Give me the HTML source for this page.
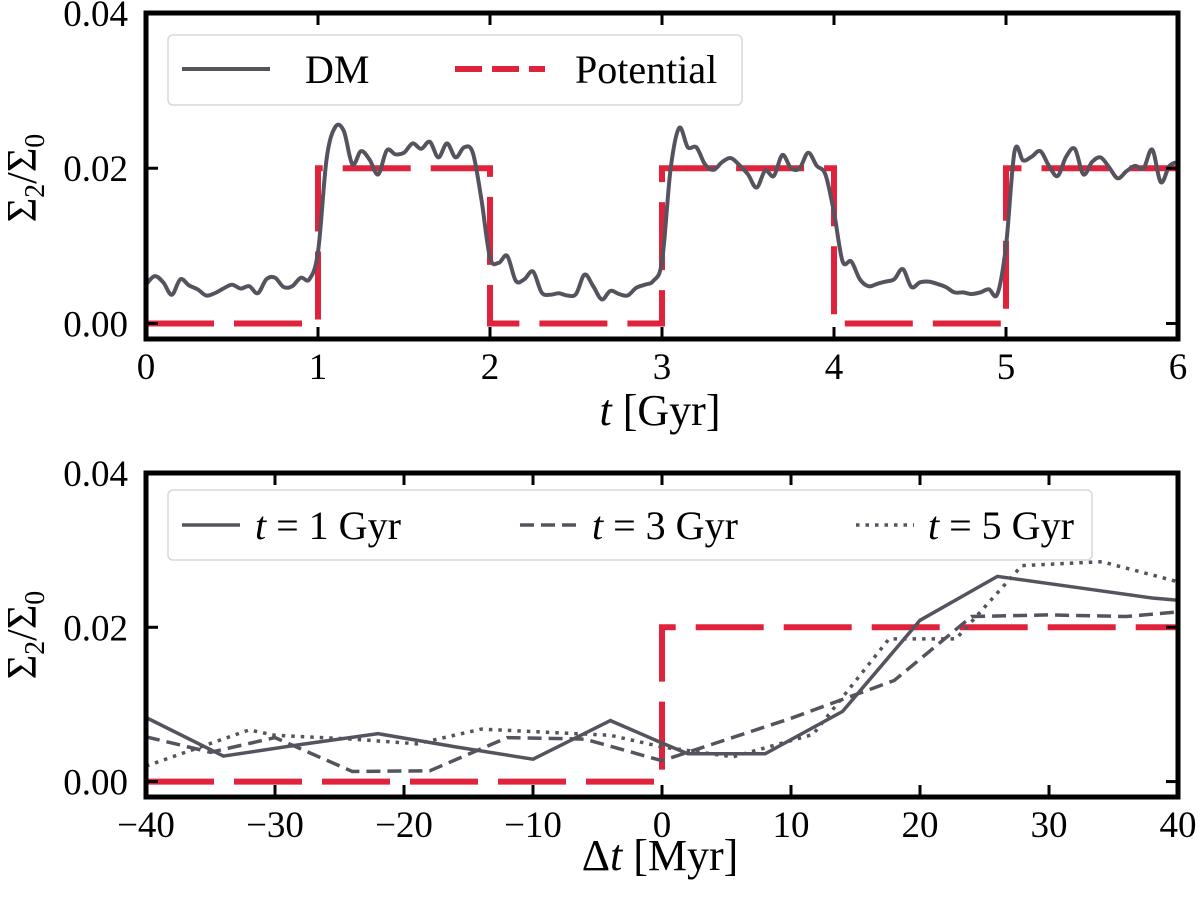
<!DOCTYPE html>
<html><head><meta charset="utf-8"><style>
body{margin:0;background:#fff}
svg{display:block}
text{font-family:"Liberation Serif",serif;fill:#000}
</style></head><body>
<svg id="fig" width="1200" height="900" xmlns="http://www.w3.org/2000/svg">
</svg>
<script>
// ---- data ----
const dmTimes = [];
const dmValues = [5.0,6.1,5.3,3.7,5.7,4.9,4.4,3.6,3.9,4.5,5.0,4.5,4.8,3.9,5.7,5.9,4.7,4.8,5.9,5.7,
 9.2,21.2,25.3,24.8,20.5,22.2,21.1,19.2,22.3,21.8,22.0,23.2,22.5,23.4,21.4,23.2,21.4,22.7,22.0,16.0,
 8.5,7.8,8.7,5.5,5.7,6.7,4.0,3.7,3.9,3.6,3.8,6.3,4.8,3.1,4.2,3.8,3.6,4.6,5.0,5.5,
 8.0,19.9,25.2,22.7,22.7,20.5,19.8,20.8,21.3,20.4,19.2,17.5,19.7,19.0,21.7,20.0,20.0,22.0,20.3,19.2,
 14.3,8.0,8.0,5.7,4.8,5.1,5.4,5.7,7.0,4.7,5.3,5.4,5.1,4.7,4.0,4.0,3.8,4.0,4.4,3.8,
 10.0,22.2,21.0,21.5,22.2,20.3,19.0,21.5,22.5,19.2,20.8,21.4,20.1,18.7,19.6,20.3,20.0,22.4,18.2,20.3,20.8];
for(let i=0;i<dmValues.length;i++) dmTimes.push(i*0.05);
const potSteps = [0,1,2,3,4,5,6];
const potLevels = [0,0.02,0,0.02,0,0.02];
const topXTicks = [0,1,2,3,4,5,6];
const yTicks = [0.00,0.02,0.04];
const botXTicks = [-40,-30,-20,-10,0,10,20,30,40];
const s1x = [-40,-34,-28,-22,-16,-10,-4,0,2,8,14,20,26,32,38,40];
const s1y = [0.0083,0.0033,0.0048,0.0062,0.0045,0.0029,0.0079,0.0050,0.0036,0.0036,0.0091,0.0209,0.0266,0.0252,0.0238,0.0235];
const s2x = [-40,-35,-30,-24,-18,-12,-6,0,2,10,18,24,30,36,40];
const s2y = [0.0058,0.0038,0.0057,0.0013,0.0014,0.0057,0.0055,0.0027,0.0038,0.0082,0.0131,0.0214,0.0216,0.0214,0.0220];
const s3x = [-40,-32,-30,-24,-19,-14,-4,0,5.5,11.7,17.6,22.8,27.9,34.1,40];
const s3y = [0.0020,0.0067,0.0060,0.0055,0.0049,0.0068,0.0060,0.0045,0.0032,0.0061,0.0185,0.0185,0.0280,0.0285,0.0259];
const botPotX = [-40,0,0,40];
const botPotY = [0,0,0.02,0.02];

const NS="http://www.w3.org/2000/svg";
const svg=document.getElementById('fig');
function el(tag,attrs,parent){const e=document.createElementNS(NS,tag);for(const k in attrs)e.setAttribute(k,attrs[k]);(parent||svg).appendChild(e);return e;}
const L=146,R=1178;
function axes(top,bottom,xmin,xmax){
  const ymin=-0.002,ymax=0.04;
  return {x:v=>L+(v-xmin)/(xmax-xmin)*(R-L), y:v=>bottom-(v-ymin)/(ymax-ymin)*(bottom-top), top, bottom};
}
const A=axes(13,339,0,6), B=axes(473,797,-40,40);
const DARK='#56535f', RED='#e0233c';

function smoothPath(xs,ys){
  let d='M'+xs[0].toFixed(1)+','+ys[0].toFixed(1);
  for(let i=0;i<xs.length-1;i++){
    const x0=xs[Math.max(i-1,0)],y0=ys[Math.max(i-1,0)],x1=xs[i],y1=ys[i],x2=xs[i+1],y2=ys[i+1],x3=xs[Math.min(i+2,xs.length-1)],y3=ys[Math.min(i+2,xs.length-1)];
    d+=' C'+(x1+(x2-x0)/6).toFixed(1)+','+(y1+(y2-y0)/6).toFixed(1)+' '+(x2-(x3-x1)/6).toFixed(1)+','+(y2-(y3-y1)/6).toFixed(1)+' '+x2.toFixed(1)+','+y2.toFixed(1);
  }
  return d;
}
function poly(xs,ys,ax){return xs.map((v,i)=>(i?'L':'M')+ax.x(v).toFixed(1)+','+ax.y(ys[i]).toFixed(1)).join(' ');}

const defs=el('defs',{});
[['ca',A],['cb',B]].forEach(([id,ax])=>{const c=el('clipPath',{id},defs);el('rect',{x:L,y:ax.top,width:R-L,height:ax.bottom-ax.top},c);});

// ---- top panel ----
const gA=el('g',{'clip-path':'url(#ca)'});


let pd='';
for(let i=0;i<potLevels.length;i++){
  const x0=A.x(potSteps[i]),x1=A.x(potSteps[i+1]),y=A.y(potLevels[i]);
  pd+=(i?'L':'M')+x0.toFixed(1)+','+y.toFixed(1)+' L'+x1.toFixed(1)+','+y.toFixed(1)+' ';
}
const pot=el('path',{d:pd,fill:'none',stroke:RED,'stroke-width':6,'stroke-dasharray':'68 20'},gA);


const dm=el('path',{d:smoothPath(dmTimes.map(A.x),dmValues.map(v=>A.y(v/1000))),fill:'none',stroke:DARK,'stroke-width':4,'stroke-linejoin':'round'},gA);



// ---- bottom panel ----
const gB=el('g',{'clip-path':'url(#cb)'});


const bp=el('path',{d:poly(botPotX,botPotY,B),fill:'none',stroke:RED,'stroke-width':6,'stroke-dasharray':'68 20'},gB);


const l1=el('path',{d:poly(s1x,s1y,B),fill:'none',stroke:DARK,'stroke-width':3.5},gB);


const l2=el('path',{d:poly(s2x,s2y,B),fill:'none',stroke:DARK,'stroke-width':3.5,'stroke-dasharray':'14 7'},gB);


const l3=el('path',{d:poly(s3x,s3y,B),fill:'none',stroke:DARK,'stroke-width':3.5,'stroke-dasharray':'3.5 6'},gB);



// ---- axes frames, ticks ----
function frame(ax,xt,fmt,name){
  const f=el('rect',{x:L,y:ax.top,width:R-L,height:ax.bottom-ax.top,fill:'none',stroke:'#000','stroke-width':5});
  
  
  xt.forEach(v=>{
    const x=ax.x(v);
    el('line',{x1:x,x2:x,y1:ax.bottom,y2:ax.bottom-12,stroke:'#000','stroke-width':3});
    el('line',{x1:x,x2:x,y1:ax.top,y2:ax.top+12,stroke:'#000','stroke-width':3});
    const t=el('text',{x:x,y:ax.bottom+40,'font-size':37,'text-anchor':'middle'});
    t.textContent=fmt(v);
    
    
  });
  yTicks.forEach(v=>{
    const y=ax.y(v);
    el('line',{x1:L,x2:L+12,y1:y,y2:y,stroke:'#000','stroke-width':3});
    el('line',{x1:R,x2:R-12,y1:y,y2:y,stroke:'#000','stroke-width':3});
    const t=el('text',{x:L-18,y:y+13,'font-size':37,'text-anchor':'end'});
    t.textContent=v.toFixed(2);
    
    
  });
}
frame(A,topXTicks,v=>String(v),'top-axes');
frame(B,botXTicks,v=>v<0?'\u2212'+(-v):String(v),'bottom-axes');
</script>

<svg style="position:absolute;left:0;top:0" width="1200" height="900" xmlns="http://www.w3.org/2000/svg">
  <text x="36" y="178" font-size="42" text-anchor="middle" transform="rotate(-90 36 178)">Σ<tspan font-size="28" dy="8">2</tspan><tspan dy="-8">/Σ</tspan><tspan font-size="28" dy="8">0</tspan></text>
  <text x="36" y="635" font-size="42" text-anchor="middle" transform="rotate(-90 36 635)">Σ<tspan font-size="28" dy="8">2</tspan><tspan dy="-8">/Σ</tspan><tspan font-size="28" dy="8">0</tspan></text>
  <text x="660" y="425" font-size="44" text-anchor="middle"><tspan font-style="italic">t</tspan> [Gyr]</text>
  <text x="660" y="870" font-size="44" text-anchor="middle">Δ<tspan font-style="italic">t</tspan> [Myr]</text>

  <g>
    <rect x="168" y="35" width="574" height="70" rx="5" fill="#fff" fill-opacity="0.85" stroke="#d8d8d8" stroke-width="1.5"/>
    <line x1="182" y1="69" x2="270" y2="69" stroke="#56535f" stroke-width="4"/>
    <text x="305" y="83" font-size="40">DM</text>
    <line x1="455" y1="69" x2="545" y2="69" stroke="#e0233c" stroke-width="6" stroke-dasharray="27 10"/>
    <text x="575" y="83" font-size="40">Potential</text>
  </g>
  <g>
    <rect x="168" y="490" width="924" height="70" rx="5" fill="#fff" fill-opacity="0.85" stroke="#d8d8d8" stroke-width="1.5"/>
    <line x1="182" y1="525" x2="240" y2="525" stroke="#56535f" stroke-width="3.5"/>
    <text x="255" y="539" font-size="40"><tspan font-style="italic">t</tspan> = 1 Gyr</text>
    <line x1="520" y1="525" x2="578" y2="525" stroke="#56535f" stroke-width="3.5" stroke-dasharray="14 7"/>
    <text x="592" y="539" font-size="40"><tspan font-style="italic">t</tspan> = 3 Gyr</text>
    <line x1="856" y1="525" x2="914" y2="525" stroke="#56535f" stroke-width="3.5" stroke-dasharray="3.5 6"/>
    <text x="928" y="539" font-size="40"><tspan font-style="italic">t</tspan> = 5 Gyr</text>
  </g>
</svg>
</body></html>
